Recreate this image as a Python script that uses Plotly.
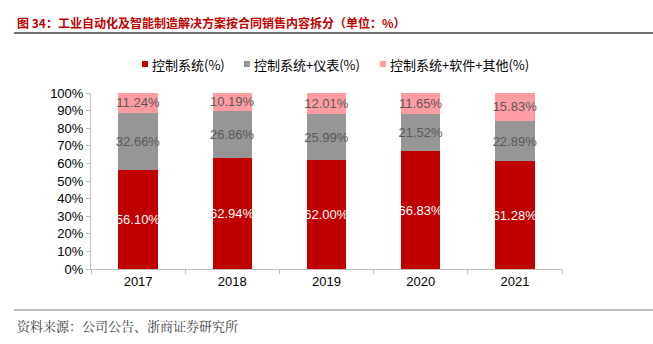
import plotly.graph_objects as go

years = ["2017", "2018", "2019", "2020", "2021"]
ctrl = [56.10, 62.94, 62.00, 66.83, 61.28]
ctrl_instr = [32.66, 26.86, 25.99, 21.52, 22.89]
ctrl_soft = [11.24, 10.19, 12.01, 11.65, 15.83]
names = ["控制系统(%)", "控制系统+仪表(%)", "控制系统+软件+其他(%)"]
y_ticks = [0, 10, 20, 30, 40, 50, 60, 70, 80, 90, 100]

font_fam = "Liberation Sans, Arial, Noto Sans CJK SC, sans-serif"
cjk = "Noto Sans CJK SC, sans-serif"

# plot area in pixels
L, R, T, B = 91, 562, 93, 269
W, H = R - L, B - T


def px(x):
    return (x - L) / W


def py(y):
    return (B - y) / H


fig = go.Figure()
colors = ["#C00000", "#969696", "#FF9BA3"]
tcolors = ["white", "#595959", "#595959"]
for vals, nm, col, tcol in zip([ctrl, ctrl_instr, ctrl_soft], names, colors, tcolors):
    fig.add_trace(go.Bar(
        x=years, y=vals, name=nm, marker=dict(color=col, line=dict(width=0)),
        text=[f"{v:.2f}%" for v in vals], textposition="inside",
        insidetextanchor="middle", textangle=0,
        textfont=dict(color=tcol, size=13, family=font_fam),
        cliponaxis=False, showlegend=False,
    ))

fig.update_layout(
    barmode="stack", bargap=0.58,
    width=653, height=344,
    margin=dict(l=L, r=653 - R, t=T, b=344 - B),
    paper_bgcolor="white", plot_bgcolor="white",
    uniformtext=dict(minsize=13, mode="show"),
    font=dict(family=font_fam, size=13, color="#000000"),
    showlegend=False,
)

fig.update_yaxes(range=[0, 100], tickvals=y_ticks, ticktext=[f"{v}%" for v in y_ticks],
                 showgrid=False, showline=True, linecolor="#BFBFBF", linewidth=1,
                 ticks="outside", ticklen=4, tickcolor="#BFBFBF", zeroline=False,
                 tickfont=dict(size=13, color="#000"))
fig.update_xaxes(showgrid=False, showline=True, linecolor="#BFBFBF", linewidth=1,
                 ticks="outside", tickson="boundaries", ticklen=4, tickcolor="#BFBFBF",
                 tickfont=dict(size=13, color="#000"))

# legend (custom, compact like the reference)
leg_marker_x = [142, 244, 380]
leg_y = 64
for mx, nm, col in zip(leg_marker_x, names, colors):
    fig.add_shape(type="rect", xref="paper", yref="paper",
                  x0=px(mx), x1=px(mx + 6), y0=py(leg_y + 3), y1=py(leg_y - 3),
                  fillcolor=col, line=dict(width=0))
    fig.add_annotation(text=nm, xref="paper", yref="paper", x=px(mx + 8), y=py(leg_y),
                       xanchor="left", yanchor="middle", showarrow=False,
                       font=dict(family=cjk, size=13, color="#000"))

fig.add_annotation(text="<b>图 34：工业自动化及智能制造解决方案按合同销售内容拆分（单位：%）</b>",
                   xref="paper", yref="paper", x=px(15), y=py(22),
                   xanchor="left", yanchor="middle", showarrow=False,
                   font=dict(family=cjk, size=12, color="#C00000"))
fig.add_annotation(text="资料来源：公司公告、浙商证券研究所",
                   xref="paper", yref="paper", x=px(15), y=py(325),
                   xanchor="left", yanchor="middle", showarrow=False,
                   font=dict(family="Noto Serif CJK SC, Noto Sans CJK SC, serif", size=13, color="#404040"))
fig.add_shape(type="line", xref="paper", yref="paper",
              x0=px(14), x1=px(653), y0=py(33), y1=py(33),
              line=dict(color="#404040", width=1.5))
fig.add_shape(type="line", xref="paper", yref="paper",
              x0=px(14), x1=px(653), y0=py(310), y1=py(310),
              line=dict(color="#808080", width=1))

fig.write_html("out.html")
